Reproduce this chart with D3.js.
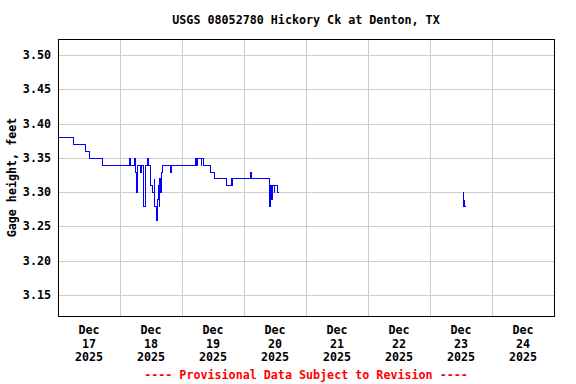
<!DOCTYPE html>
<html lang="en">
<head>
<meta charset="utf-8">
<title>USGS 08052780 Hickory Ck at Denton, TX</title>
<script src="https://cdnjs.cloudflare.com/ajax/libs/d3/7.8.5/d3.min.js"></script>
<style>
  body { margin: 0; background: #fff; }
  text { font-family: "DejaVu Sans Mono", monospace; font-weight: bold; font-size: 11.7px; }
</style>
</head>
<body>
<script>
// gage height readings, hours after Dec 17 2025 00:00 (value holds until next reading)
var start = new Date(2025, 11, 17);
var hours1 = [0, 5.75, 10.5, 12, 17, 27.5, 27.75, 29.5, 29.75, 30, 30.25, 30.5, 31.75, 32, 32.75, 33, 33.5,
  34.5, 35, 35.75, 36.25, 37, 37.25, 37.75, 38, 38.25, 38.75, 39, 39.25, 39.5, 39.75, 40.25, 43.5, 43.75,
  53, 53.5, 53.75, 55.25, 55.5, 56.25, 59, 60.25, 65, 67, 67.25, 67.5, 74.5, 74.75, 81.5, 81.75, 82,
  82.5, 83, 83.5, 83.75, 84.75, 85];
var gage1 = [3.38, 3.37, 3.36, 3.35, 3.34, 3.35, 3.34, 3.35, 3.33, 3.31, 3.30, 3.34, 3.33, 3.34, 3.31, 3.28, 3.34,
  3.35, 3.34, 3.31, 3.30, 3.32, 3.28, 3.27, 3.26, 3.29, 3.31, 3.28, 3.32, 3.30, 3.33, 3.34, 3.33, 3.34,
  3.35, 3.34, 3.35, 3.34, 3.35, 3.34, 3.33, 3.32, 3.31, 3.32, 3.31, 3.32, 3.33, 3.32, 3.30, 3.28, 3.31,
  3.29, 3.31, 3.30, 3.31, 3.30, 3.30];
var hours2 = [156.5, 156.75, 157, 157.25, 157.5];
var gage2 = [3.30, 3.28, 3.29, 3.28, 3.28];

var dayLabels = ["17", "18", "19", "20", "21", "22", "23", "24"];
var yTicks = [3.15, 3.20, 3.25, 3.30, 3.35, 3.40, 3.45, 3.50];

var W = 576, H = 384;
var margin = {top: 39, right: 22, bottom: 68, left: 58};

var svg = d3.select("body").append("svg")
    .attr("width", W)
    .attr("height", H);

var x = d3.scaleTime()
    .domain([start, d3.timeDay.offset(start, 8)])
    .range([margin.left, W - margin.right]);
var y = d3.scaleLinear()
    .domain([3.1195, 3.5233])
    .range([H - margin.bottom, margin.top]);

function toDate(h) { return new Date(start.getTime() + h * 3600 * 1000); }

// grid
var grid = svg.append("g").attr("shape-rendering", "crispEdges");
grid.selectAll(".hg").data(yTicks).enter().append("line")
    .attr("x1", margin.left).attr("x2", W - margin.right)
    .attr("y1", function(d) { return Math.round(y(d)) + 0.5; })
    .attr("y2", function(d) { return Math.round(y(d)) + 0.5; })
    .attr("stroke", "#cccccc");
var days = d3.range(1, 8).map(function(i) { return d3.timeDay.offset(start, i); });
grid.selectAll(".vg").data(days).enter().append("line")
    .attr("x1", function(d) { return Math.round(x(d)) + 0.5; })
    .attr("x2", function(d) { return Math.round(x(d)) + 0.5; })
    .attr("y1", margin.top).attr("y2", H - margin.bottom)
    .attr("stroke", "#cccccc");

// data
var line = d3.line()
    .x(function(d) { return Math.round(x(d[0])) + 0.5; })
    .y(function(d) { return Math.round(y(d[1])) + 0.5; })
    .curve(d3.curveStepAfter);
[[hours1, gage1], [hours2, gage2]].forEach(function(s) {
  var pts = s[0].map(function(h, i) { return [toDate(h), s[1][i]]; });
  svg.append("path")
      .attr("d", line(pts))
      .attr("fill", "none")
      .attr("stroke", "#0000ff")
      .attr("stroke-width", 1)
      .attr("shape-rendering", "crispEdges");
});

// frame
svg.append("rect")
    .attr("x", margin.left + 0.5).attr("y", margin.top + 0.5)
    .attr("width", W - margin.left - margin.right)
    .attr("height", H - margin.top - margin.bottom)
    .attr("fill", "none").attr("stroke", "#000")
    .attr("shape-rendering", "crispEdges");

// y tick labels
svg.selectAll(".yl").data(yTicks).enter().append("text")
    .attr("x", margin.left - 7)
    .attr("y", function(d) { return y(d) + 4; })
    .attr("text-anchor", "end")
    .text(function(d) { return d3.format(".2f")(d); });

// x labels at noon
var xl = svg.selectAll(".xl").data(dayLabels).enter().append("text")
    .attr("text-anchor", "middle")
    .attr("transform", function(d, i) {
      return "translate(" + x(d3.timeHour.offset(start, i * 24 + 12)) + ",0)";
    });
xl.append("tspan").attr("x", 0).attr("y", 334).text("Dec");
xl.append("tspan").attr("x", 0).attr("y", 348).text(function(d) { return d; });
xl.append("tspan").attr("x", 0).attr("y", 361).text("2025");

// titles
var cx = (margin.left + W - margin.right) / 2;
svg.append("text").attr("x", cx).attr("y", 24).attr("text-anchor", "middle")
    .text("USGS 08052780 Hickory Ck at Denton, TX");
svg.append("text").attr("x", cx).attr("y", 379).attr("text-anchor", "middle")
    .attr("fill", "#ff0000")
    .text("---- Provisional Data Subject to Revision ----");
svg.append("text")
    .attr("transform", "translate(16," + ((margin.top + H - margin.bottom) / 2) + ") rotate(-90)")
    .attr("text-anchor", "middle")
    .text("Gage height, feet");
</script>
</body>
</html>
